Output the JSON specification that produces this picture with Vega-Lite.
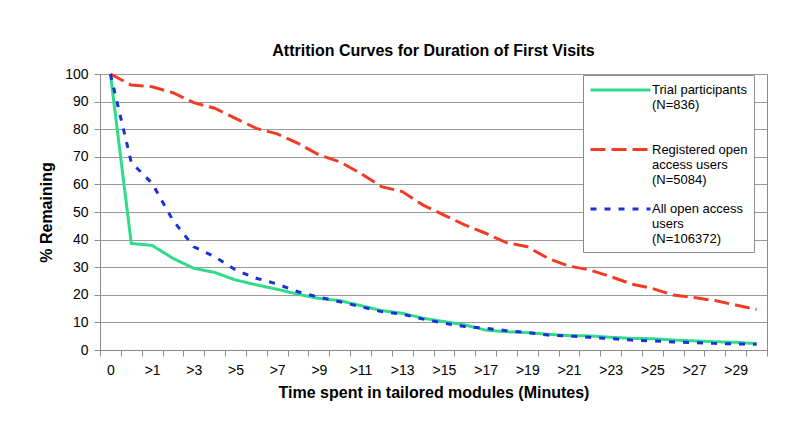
{
  "$schema": "https://vega.github.io/schema/vega-lite/v6.json",
  "width": 667,
  "height": 276,
  "autosize": "none",
  "padding": {"left": 100, "top": 74, "right": 33, "bottom": 91},
  "background": "white",
  "title": {
    "text": "Attrition Curves for Duration of First Visits",
    "font": "Liberation Sans",
    "fontSize": 16,
    "fontWeight": "bold",
    "color": "black",
    "anchor": "middle",
    "offset": 8
  },
  "datasets": {
    "trial": [
      {"t": "0", "v": 100}, {"t": ">0", "v": 38.6}, {"t": ">1", "v": 37.9}, {"t": ">2", "v": 33.2},
      {"t": ">3", "v": 29.6}, {"t": ">4", "v": 28.1}, {"t": ">5", "v": 25.4}, {"t": ">6", "v": 23.6},
      {"t": ">7", "v": 22}, {"t": ">8", "v": 20.2}, {"t": ">9", "v": 18.7}, {"t": ">10", "v": 17.9},
      {"t": ">11", "v": 16.1}, {"t": ">12", "v": 14.3}, {"t": ">13", "v": 13.3}, {"t": ">14", "v": 11.5},
      {"t": ">15", "v": 10.3}, {"t": ">16", "v": 9.1}, {"t": ">17", "v": 7.2}, {"t": ">18", "v": 6.6},
      {"t": ">19", "v": 6.3}, {"t": ">20", "v": 5.7}, {"t": ">21", "v": 5.2}, {"t": ">22", "v": 5.1},
      {"t": ">23", "v": 4.6}, {"t": ">24", "v": 4.2}, {"t": ">25", "v": 4.1}, {"t": ">26", "v": 3.6},
      {"t": ">27", "v": 3.3}, {"t": ">28", "v": 3.0}, {"t": ">29", "v": 2.8}, {"t": ">30", "v": 2.3}
    ],
    "registered": [
      {"t": "0", "v": 100}, {"t": ">0", "v": 96}, {"t": ">1", "v": 95.4}, {"t": ">2", "v": 93.2},
      {"t": ">3", "v": 89.6}, {"t": ">4", "v": 87.6}, {"t": ">5", "v": 83.9}, {"t": ">6", "v": 80.3},
      {"t": ">7", "v": 78.3}, {"t": ">8", "v": 74.9}, {"t": ">9", "v": 70.7}, {"t": ">10", "v": 68.2},
      {"t": ">11", "v": 64}, {"t": ">12", "v": 59.2}, {"t": ">13", "v": 57.4}, {"t": ">14", "v": 52.5},
      {"t": ">15", "v": 48.9}, {"t": ">16", "v": 45.3}, {"t": ">17", "v": 42.3}, {"t": ">18", "v": 38.9},
      {"t": ">19", "v": 37.4}, {"t": ">20", "v": 33.2}, {"t": ">21", "v": 30.4}, {"t": ">22", "v": 29},
      {"t": ">23", "v": 26.6}, {"t": ">24", "v": 23.9}, {"t": ">25", "v": 22.3}, {"t": ">26", "v": 19.9},
      {"t": ">27", "v": 19}, {"t": ">28", "v": 17.9}, {"t": ">29", "v": 16.3}, {"t": ">30", "v": 14.7}
    ],
    "all": [
      {"t": "0", "v": 100}, {"t": ">0", "v": 68}, {"t": ">1", "v": 60.4}, {"t": ">2", "v": 47},
      {"t": ">3", "v": 37.4}, {"t": ">4", "v": 33.8}, {"t": ">5", "v": 29}, {"t": ">6", "v": 26},
      {"t": ">7", "v": 23.9}, {"t": ">8", "v": 21.1}, {"t": ">9", "v": 19.1}, {"t": ">10", "v": 17.5},
      {"t": ">11", "v": 15.7}, {"t": ">12", "v": 13.9}, {"t": ">13", "v": 13}, {"t": ">14", "v": 11.2},
      {"t": ">15", "v": 9.7}, {"t": ">16", "v": 8.5}, {"t": ">17", "v": 7.9}, {"t": ">18", "v": 7},
      {"t": ">19", "v": 6.3}, {"t": ">20", "v": 5.4}, {"t": ">21", "v": 5.1}, {"t": ">22", "v": 4.6},
      {"t": ">23", "v": 4.1}, {"t": ">24", "v": 3.6}, {"t": ">25", "v": 3.3}, {"t": ">26", "v": 2.9},
      {"t": ">27", "v": 2.7}, {"t": ">28", "v": 2.4}, {"t": ">29", "v": 2.2}, {"t": ">30", "v": 2.1}
    ]
  },
  "encoding": {
    "x": {
      "field": "t",
      "type": "ordinal",
      "sort": null,
      "bandPosition": 0.5,
      "scale": {"type": "band", "paddingInner": 0, "paddingOuter": 0},
      "axis": {
        "title": "Time spent in tailored modules (Minutes)",
        "labelAngle": 0,
        "tickBand": "extent",
        "labelExpr": "test(/^(0|>\\d*[13579])$/, datum.label) ? datum.label : ''",
        "labelPadding": 7,
        "titlePadding": 7
      }
    },
    "y": {
      "field": "v",
      "type": "quantitative",
      "scale": {"domain": [0, 100], "nice": false},
      "axis": {
        "title": "% Remaining",
        "values": [0, 10, 20, 30, 40, 50, 60, 70, 80, 90, 100],
        "grid": true,
        "labelPadding": 6,
        "titlePadding": 10
      }
    },
    "color": {
      "field": "s",
      "type": "nominal",
      "scale": {"domain": ["Trial", "Registered", "All"], "range": ["#2fdc8c", "#f03c24", "#1a30d8"]},
      "legend": {"title": null, "labelExpr": "datum.label == 'Trial' ? ['Trial participants', '(N=836)', ''] : datum.label == 'Registered' ? ['Registered open', 'access users', '(N=5084)'] : ['All open access', 'users', '(N=106372)']"}
    },
    "strokeDash": {
      "field": "s",
      "type": "nominal",
      "scale": {"domain": ["Trial", "Registered", "All"], "range": [[1, 0], [15, 6], [6, 8]]},
      "legend": {"title": null, "labelExpr": "datum.label == 'Trial' ? ['Trial participants', '(N=836)', ''] : datum.label == 'Registered' ? ['Registered open', 'access users', '(N=5084)'] : ['All open access', 'users', '(N=106372)']"}
    }
  },
  "layer": [
    {
      "data": {"name": "trial"},
      "transform": [{"calculate": "'Trial'", "as": "s"}],
      "mark": {"type": "line", "strokeWidth": 3}
    },
    {
      "data": {"name": "registered"},
      "transform": [{"calculate": "'Registered'", "as": "s"}],
      "mark": {"type": "line", "strokeWidth": 3}
    },
    {
      "data": {"name": "all"},
      "transform": [{"calculate": "'All'", "as": "s"}],
      "mark": {"type": "line", "strokeWidth": 3}
    }
  ],
  "config": {
    "font": "Liberation Sans",
    "view": {"stroke": "#8c8c8c", "strokeWidth": 1},
    "axis": {
      "labelFont": "Liberation Sans",
      "labelFontSize": 14,
      "labelColor": "black",
      "titleFont": "Liberation Sans",
      "titleFontSize": 16,
      "titleFontWeight": "bold",
      "titleColor": "black",
      "domainColor": "#8c8c8c",
      "tickColor": "#8c8c8c",
      "tickSize": 6,
      "gridColor": "#9a9a9a",
      "gridWidth": 1
    },
    "axisX": {"grid": false},
    "legend": {
      "orient": "none",
      "legendX": 483,
      "legendY": 1,
      "fillColor": "white",
      "strokeColor": "#8c8c8c",
      "padding": 6,
      "symbolType": "M-1,0H7",
      "symbolSize": 225,
      "symbolStrokeWidth": 3,
      "labelFont": "Liberation Sans",
      "labelFontSize": 13,
      "labelLineHeight": 15,
      "labelColor": "black",
      "labelLimit": 200,
      "labelOffset": 45,
      "rowPadding": 13.5
    }
  }
}
